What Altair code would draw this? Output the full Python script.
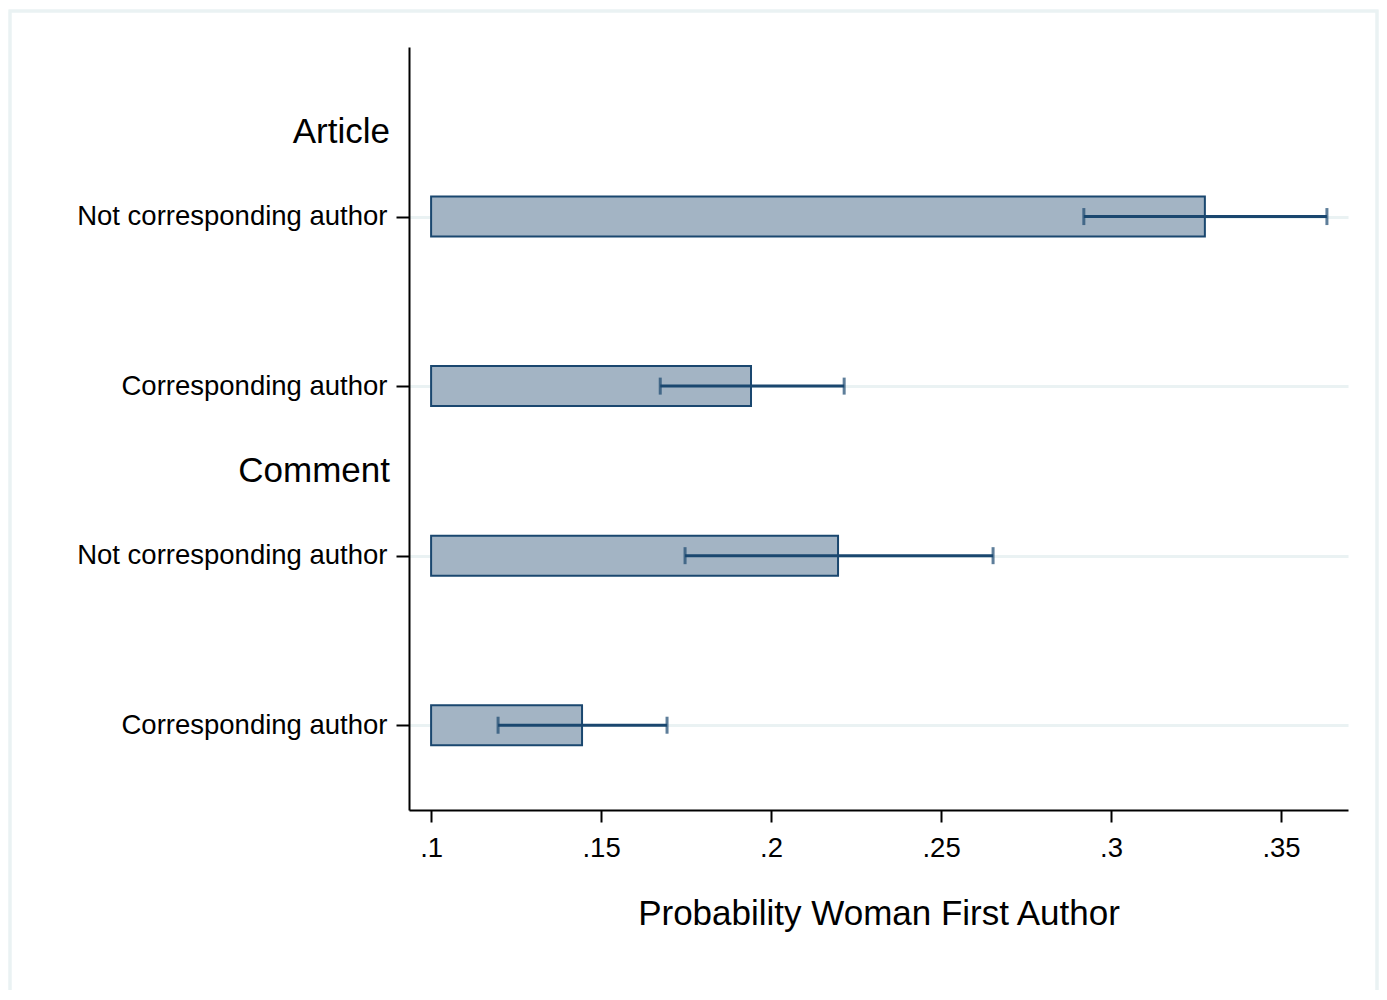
import altair as alt
import pandas as pd

# ---- data ----
groups = ["Article", "Comment"]
group_pos = [0.5, 2.5]
row_labels = ["Not corresponding author", "Corresponding author",
              "Not corresponding author", "Corresponding author"]
row_pos = [1, 2, 3, 4]
probs = [0.3276, 0.1941, 0.2197, 0.1444]
ci_lo = [0.2920, 0.1674, 0.1747, 0.1197]
ci_hi = [0.3635, 0.2215, 0.2653, 0.1694]
bar_base = 0.1
x_ticks = [0.1, 0.15, 0.2, 0.25, 0.3, 0.35]

NAVY = "#1A476F"
FILL = "#A3B4C4"
GRID = "#EAF2F3"
FONT = "Liberation Sans"

df = pd.DataFrame({"row": row_pos, "label": row_labels, "p": probs,
                   "lo": ci_lo, "hi": ci_hi, "base": [bar_base] * 4})
caps = pd.DataFrame({"row": row_pos * 2, "v": ci_lo + ci_hi})
gdf = pd.DataFrame({"g": groups, "pos": group_pos})

xscale = alt.Scale(domain=[0.0935, 0.3697], nice=False, zero=False, padding=0)
yscale = alt.Scale(domain=[0, 4.5], nice=False, zero=False, reverse=True, padding=0)

label_arr = "[" + ",".join(["''"] + ["'" + s + "'" for s in row_labels]) + "]"

xaxis = alt.Axis(values=x_ticks, labelExpr="substring(format(datum.value, '~g'), 1)",
                 title="Probability Woman First Author", grid=False,
                 labelFontSize=27.5, titleFontSize=35, labelPadding=12, titlePadding=35,
                 tickSize=12, tickWidth=2, tickColor="black", domainColor="black",
                 domainWidth=2, labelColor="black", titleColor="black",
                 labelFont=FONT, titleFont=FONT, titleFontWeight="normal")
yaxis = alt.Axis(values=row_pos, labelExpr=label_arr + "[datum.value]", title=None,
                 grid=True, gridColor=GRID, gridWidth=3, labelLimit=0,
                 labelFontSize=27.5, labelPadding=9, tickSize=13, tickWidth=2,
                 tickColor="black", domainColor="black", domainWidth=2,
                 labelColor="black", labelFont=FONT)

base = alt.Chart(df)

bars = base.mark_bar(size=40, fill=FILL, stroke=NAVY, strokeWidth=2).encode(
    x=alt.X("base:Q", scale=xscale, axis=xaxis),
    x2="p:Q",
    y=alt.Y("row:Q", scale=yscale, axis=yaxis),
)
rules = base.mark_rule(color=NAVY, strokeWidth=3).encode(
    x=alt.X("lo:Q", scale=xscale), x2="hi:Q",
    y=alt.Y("row:Q", scale=yscale),
)
capm = alt.Chart(caps).mark_tick(orient="vertical", size=17, thickness=3, color=NAVY).encode(
    x=alt.X("v:Q", scale=xscale), y=alt.Y("row:Q", scale=yscale),
)
gtext = alt.Chart(gdf).mark_text(align="right", baseline="middle", fontSize=35,
                                 font=FONT, color="black").encode(
    x=alt.value(-19), y=alt.Y("pos:Q", scale=yscale), text="g:N",
)
frame = alt.Chart(gdf).mark_rect(filled=False, stroke=GRID, strokeWidth=3).encode(
    x=alt.value(-399), x2=alt.value(968), y=alt.value(-36), y2=alt.value(1000),
)

chart = alt.layer(frame, bars, rules, capm, gtext).properties(
    width=939, height=763,
    background="white",
    autosize=alt.AutoSizeParams(type="none"),
    padding={"left": 401, "top": 39, "right": 31, "bottom": 180},
).configure_view(strokeWidth=0, stroke="transparent")

chart.save("out.html", embed_options={"renderer": "svg", "actions": False})
